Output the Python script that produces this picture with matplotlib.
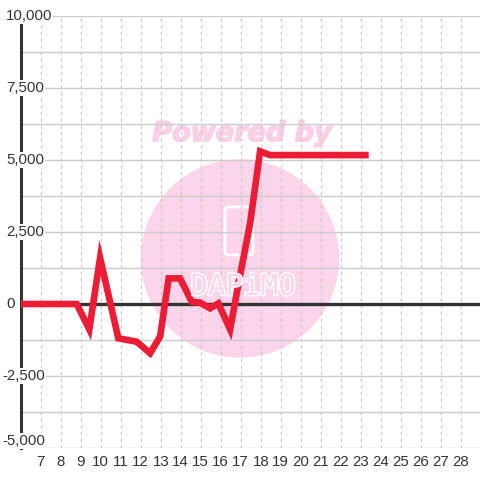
import numpy as np
import matplotlib.pyplot as plt
from matplotlib import transforms
from matplotlib.patches import Circle, FancyBboxPatch
import matplotlib.patheffects as pe

plt.rcParams['font.family'] = ['Liberation Sans', 'DejaVu Sans']

# series
x_vals = [6, 8.8, 9.43, 9.97, 10.88, 11.8, 12.47, 12.97, 13.4, 13.97, 14.55,
          14.97, 15.47, 15.88, 16.47, 16.97, 17.47, 17.97, 18.47, 23.4]
y_vals = [0, 0, -880, 1600, -1190, -1310, -1710, -1130, 890, 890, 80,
          45, -150, 20, -880, 1000, 2800, 5300, 5170, 5170]

x_ticks = list(range(7, 29))
y_ticks = [-5000, -2500, 0, 2500, 5000, 7500, 10000]
y_grid = np.arange(-5000, 10001, 1250)

W = 480.0
fig = plt.figure(figsize=(4.8, 4.8), dpi=100)
ax = fig.add_axes([20.7 / W, 1 - 448 / W, (480.7 - 20.7) / W, 432 / W])
ax.set_xlim(6, 29)
ax.set_ylim(-5000, 10000)
ax.set_axisbelow(True)

# grid
for yv in y_grid:
    ax.axhline(yv, color='#cccccc', lw=1, zorder=1)
for xv in x_ticks:
    ax.axvline(xv, color='#c8c8c8', lw=0.8, ls=(0, (3, 3)), zorder=1)

# watermark
def fx(px):
    return px / W

def fy(py):
    return 1 - py / W

pink = '#fbd5ea'
ax.add_patch(Circle((fx(240), fy(258.5)), 98.5 / W, transform=fig.transFigure,
                    color=pink, zorder=0.2, clip_on=False))
ax.add_patch(FancyBboxPatch((fx(225), fy(255)), 28 / W, 48 / W,
                            boxstyle='round,pad=0,rounding_size=0.008',
                            transform=fig.transFigure, fc='none', ec='white',
                            lw=2, zorder=0.3, clip_on=False))
fig.text(fx(243), fy(287), 'DAPiMO', color=pink, fontsize=21,
         family='DejaVu Sans Mono', ha='center', va='center', zorder=0.3,
         path_effects=[pe.withStroke(linewidth=2, foreground='white')])
ax.text(fx(242), fy(134), 'Powered by', transform=fig.transFigure,
        color='#fbcfe6', fontsize=19.5, fontweight='heavy', fontstyle='italic',
        family='DejaVu Sans', ha='center', va='center', zorder=0.3,
        path_effects=[pe.withStroke(linewidth=1.2, foreground='#fbcfe6')])

# zero line and series
ax.axhline(0, color='#333333', lw=2.4, zorder=2.5)
ax.plot(x_vals, y_vals, color='#ED1C36', lw=4.8, solid_joinstyle='miter',
        solid_capstyle='butt', zorder=3)

for s in ['top', 'right', 'bottom']:
    ax.spines[s].set_visible(False)
ax.spines['left'].set_color('#333333')
ax.spines['left'].set_linewidth(2.2)

ax.set_xticks(x_ticks)
ax.set_xticklabels([str(t) for t in x_ticks], fontsize=10.8, color='#333333')
ax.tick_params(axis='x', length=0, pad=5)
ax.set_yticks([])

# y labels sit over the spine with a white background
trans = transforms.blended_transform_factory(fig.transFigure, ax.transData)
for yv in y_ticks:
    x0 = 2 if yv < 0 else 6
    va = 'bottom' if yv == y_ticks[0] else 'center'
    ax.text(x0 / W, yv, f'{yv:,}', transform=trans, ha='left', va=va,
            fontsize=10.8, color='#333333', zorder=5, clip_on=False,
            bbox=dict(fc='white', ec='none', pad=0.5))

fig.savefig('out.png', dpi=100)
